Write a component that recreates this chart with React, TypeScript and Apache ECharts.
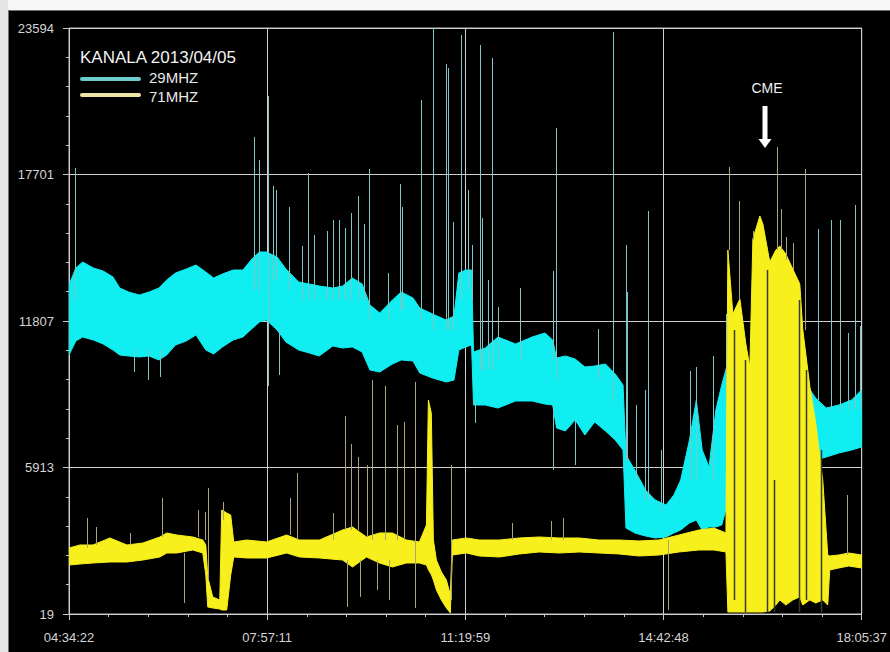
import React, { useEffect, useRef } from 'react';
import * as echarts from 'echarts';

// Axis tick labels
const xTickLabels = ['04:34:22', '07:57:11', '11:19:59', '14:42:48', '18:05:37'];
const yTickLabels = ['19', '5913', '11807', '17701', '23594'];
const Y_MIN = 19;
const Y_MAX = 23594;
const T_MAX = 811.25; // minutes from 04:34:22 to 18:05:37

// 29 MHz channel: envelope of the noisy band (minutes since 04:34:22)
const c29Time = [0, 7, 14, 25, 35, 45, 52, 61, 72, 82, 92, 100, 109, 120, 130, 140, 148, 157, 168, 178, 188, 195, 202, 213, 222, 235, 246, 256, 270, 280, 290, 300, 308, 318, 331, 340, 352, 359, 372, 386, 394, 399, 406, 412, 414, 426, 439, 457, 474, 487, 495, 499, 508, 518, 528, 538, 549, 559, 567, 570, 579, 590, 600, 611, 619, 626, 635, 642, 648, 655, 662, 668, 675, 691, 706, 721, 737, 747, 754, 764, 775, 788, 801, 811];
const c29High = [13255, 13938, 14180, 13938, 13818, 13576, 13134, 12973, 12852, 12973, 13134, 13456, 13737, 13898, 14059, 13777, 13536, 13697, 13858, 13858, 14341, 14582, 14582, 14381, 13898, 13375, 13295, 13215, 13134, 13215, 13536, 13295, 12450, 12128, 12651, 12973, 12732, 12329, 12088, 11846, 12007, 13737, 13858, 13858, 10559, 10720, 11163, 10881, 11163, 11324, 11042, 10318, 10398, 10278, 9956, 9996, 10077, 9674, 9231, 6416, 5813, 5007, 4605, 4404, 4806, 5410, 7019, 8628, 6617, 5933, 8226, 9231, 10237, 10237, 9835, 9835, 10237, 9835, 9312, 8709, 8306, 8427, 8628, 9031];
const c29Low = [10438, 11002, 11163, 11042, 10881, 10640, 10438, 10398, 10358, 10398, 10237, 10438, 10841, 11002, 11243, 10640, 10479, 10760, 11042, 11163, 11525, 11766, 11846, 11444, 10961, 10640, 10519, 10398, 10801, 10720, 10760, 10559, 9835, 9754, 10077, 10237, 10197, 9714, 9513, 9352, 9433, 10640, 10760, 10841, 8427, 8427, 8306, 8588, 8588, 8467, 8427, 7502, 7381, 7824, 7220, 7744, 7381, 7019, 6617, 3478, 3278, 3157, 3077, 3117, 3278, 3398, 3680, 3801, 3398, 3519, 3519, 3599, 4605, 5813, 5813, 5813, 5813, 6013, 6214, 6214, 6335, 6497, 6617, 6738];

// 29 MHz isolated spikes: minute, from, to
const c29SpikeTime = [6.1, 189.0, 194.1, 203.3, 208.4, 211.5, 224.8, 238.1, 244.2, 250.3, 263.6, 269.7, 275.9, 282.0, 289.1, 295.3, 301.4, 307.5, 326.9, 339.2, 341.2, 360.7, 372.9, 386.2, 388.2, 393.4, 401.5, 408.7, 412.8, 420.9, 423.0, 429.1, 433.2, 439.3, 461.8, 495.5, 498.6, 541.5, 556.8, 570.1, 571.1, 580.3, 589.5, 592.6, 605.9, 635.5, 641.6, 659.0, 672.3, 766.3, 779.6, 788.8, 797.0, 804.1, 809.2, 66.4, 80.7, 93.0, 214.6, 415.8, 495.5, 518.0];
const c29SpikeFrom = [12651, 13053, 13053, 9191, 13456, 13456, 13053, 12651, 12651, 12651, 12651, 12651, 12651, 12651, 12651, 12651, 12651, 11846, 11846, 12249, 12249, 11846, 11444, 11444, 11444, 11444, 12651, 13053, 12651, 9835, 9835, 9835, 9835, 10237, 10237, 10237, 9433, 9433, 8628, 6214, 6214, 5410, 4605, 4605, 4203, 5410, 5410, 5410, 5410, 8628, 8226, 8226, 8226, 8226, 8226, 10640, 10640, 10640, 11444, 8628, 8427, 7824];
const c29SpikeTo = [17961, 19209, 18283, 20858, 17237, 17076, 16393, 14823, 17760, 15266, 15427, 15870, 15870, 15548, 16151, 16835, 15709, 17921, 13737, 17318, 16393, 20697, 23594, 22145, 21984, 15789, 23312, 17076, 14864, 22910, 15950, 13456, 22387, 12369, 13134, 13818, 19571, 11484, 23433, 14864, 12973, 8427, 9031, 16232, 6617, 9795, 9956, 10398, 12088, 15507, 15870, 15870, 11324, 16473, 11605, 9754, 9433, 9553, 9634, 7703, 5813, 6013];

// 71 MHz channel envelope
const y71Time = [0, 11.2, 24.5, 41.9, 59.3, 75.6, 93.0, 100.1, 110.3, 126.7, 136.9, 140.0, 142.0, 147.1, 154.3, 156.3, 161.4, 165.5, 168.6, 181.9, 202.3, 222.7, 236.0, 256.4, 279.9, 290.2, 304.5, 317.7, 331.0, 345.3, 358.6, 365.8, 367.8, 370.8, 372.9, 376.0, 381.1, 386.2, 390.3, 392.3, 406.6, 419.9, 440.4, 460.8, 481.2, 501.7, 522.1, 542.5, 563.0, 583.4, 603.8, 624.3, 644.7, 660.0, 672.3, 674.3, 679.4, 686.6, 692.7, 696.8, 699.9, 707.0, 710.1, 717.2, 723.4, 727.5, 733.6, 740.7, 747.9, 750.9, 758.1, 764.2, 771.4, 776.5, 778.5, 787.8, 797.9, 811.2];
const y71High = [2674, 2795, 2795, 3077, 2795, 2875, 3117, 3278, 3197, 3117, 2996, 2795, 1508, 704, 582, 4203, 4082, 4002, 2916, 2996, 2916, 3197, 2996, 2996, 3398, 3519, 3117, 3278, 3278, 2996, 2916, 3600, 8628, 8100, 3000, 2191, 1709, 1387, 784, 2996, 3077, 2996, 2996, 3077, 3117, 3077, 3077, 2996, 2996, 2956, 2996, 3197, 3398, 3478, 3278, 14663, 12088, 12691, 10881, 9956, 15105, 16031, 15709, 14180, 14663, 14823, 14502, 13898, 13295, 11484, 9191, 7703, 5410, 2393, 2353, 2393, 2473, 2393];
const y71Low = [1990, 2031, 2071, 2111, 2111, 2191, 2313, 2473, 2473, 2594, 2473, 1588, 301, 261, 220, 180, 180, 1588, 2313, 2272, 2272, 2473, 2313, 2272, 2191, 1910, 2313, 2071, 1910, 2071, 2071, 1990, 1800, 1600, 1387, 985, 582, 261, 60, 2393, 2473, 2353, 2313, 2433, 2514, 2473, 2514, 2473, 2433, 2353, 2393, 2514, 2594, 2594, 2514, 100, 100, 100, 100, 100, 100, 100, 100, 140, 381, 582, 381, 582, 704, 381, 582, 462, 582, 381, 1789, 1870, 1950, 1870];

// 71 MHz isolated spikes: minute, from, to
const y71SpikeTime = [18.4, 27.6, 62.3, 95.0, 131.8, 139.0, 142.0, 157.3, 225.8, 232.9, 269.7, 282.0, 289.1, 295.3, 304.5, 309.6, 323.9, 336.1, 343.3, 354.5, 391.3, 453.6, 493.5, 505.7, 795.9, 675.4, 685.6, 699.9, 724.4, 728.5, 733.6, 740.7, 753.0, 117.5, 284.0, 297.3, 314.7, 328.0, 613.0];
const y71SpikeFrom = [2674, 2795, 2795, 3117, 3117, 2996, 1387, 3801, 3197, 2996, 2996, 3398, 3398, 3398, 3117, 2996, 2996, 2996, 2996, 261, 582, 2996, 2996, 2996, 2393, 14663, 12651, 15065, 14663, 14663, 14261, 13858, 11444, 2473, 2191, 2191, 2191, 2191, 2996];
const y71SpikeTo = [3881, 3519, 3278, 4685, 4203, 4122, 5088, 4524, 4685, 5691, 4082, 7985, 6858, 6335, 6013, 9433, 9191, 7622, 7744, 9352, 6013, 3680, 3761, 3881, 4806, 18002, 16634, 15427, 18806, 16312, 15185, 14944, 17921, 462, 301, 704, 985, 582, 180];

// 71 MHz signal dropouts inside the CME burst: minute, top, bottom
const y71GapTime = [680.5, 691.7, 714.2, 721.3, 746.9, 754.0, 769.3];
const y71GapTop = [11444, 10237, 13858, 5410, 12651, 9835, 6617];
const y71GapBottom = [582, 100, 100, 100, 100, 582, 100];

const X_INTERVAL = T_MAX / 4;
const Y_INTERVAL = (Y_MAX - Y_MIN) / 4;

function bandSeries(name: string, time: number[], low: number[], high: number[], color: string) {
  return {
    type: 'custom',
    name,
    coordinateSystem: 'cartesian2d',
    clip: true,
    silent: true,
    data: [[time[0], low[0] - Y_MIN]],
    renderItem: (_p: any, api: any) => {
      const pts: number[][] = [];
      for (let i = 0; i < time.length; i++) pts.push(api.coord([time[i], high[i] - Y_MIN]));
      for (let i = time.length - 1; i >= 0; i--) pts.push(api.coord([time[i], low[i] - Y_MIN]));
      return {
        type: 'polygon',
        shape: { points: pts },
        style: { fill: color, stroke: color, lineWidth: 1 },
      };
    },
  };
}

function spikeSeries(name: string, time: number[], from: number[], to: number[], color: string, width: number) {
  return {
    type: 'custom',
    name,
    coordinateSystem: 'cartesian2d',
    clip: true,
    silent: true,
    data: time.map((t, i) => [t, from[i] - Y_MIN, to[i] - Y_MIN]),
    encode: { x: 0, y: [1, 2] },
    renderItem: (_p: any, api: any) => {
      const a = api.coord([api.value(0), api.value(1)]);
      const b = api.coord([api.value(0), api.value(2)]);
      const x = Math.round(a[0]) + 0.5;
      return {
        type: 'line',
        shape: { x1: x, y1: a[1], x2: x, y2: b[1] },
        style: { stroke: color, lineWidth: width },
      };
    },
  };
}

const AXIS_FONT = 'Liberation Sans, Arial, sans-serif';
const TITLE_FONT = '17px Liberation Sans, Arial, sans-serif';
const LEGEND_FONT = '15px Liberation Sans, Arial, sans-serif';

export default function App() {
  const ref = useRef<HTMLDivElement>(null);
  useEffect(() => {
    if (!ref.current) return;
    const chart = echarts.init(ref.current, undefined, { renderer: 'svg' });
    chart.setOption({
      animation: false,
      backgroundColor: '#000000',
      grid: { left: 69, top: 28, right: 27, bottom: 38, show: true, borderColor: '#b8b8b8', borderWidth: 1, backgroundColor: '#000' },
      xAxis: {
        type: 'value',
        min: 0,
        max: T_MAX,
        interval: X_INTERVAL,
        offset: 5,
        axisLine: { show: false },
        axisTick: { show: true, length: 6, lineStyle: { color: '#c8c8c8' } },
        minorTick: { show: true, splitNumber: 5, length: 3, lineStyle: { color: '#c8c8c8' } },
        splitLine: { show: true, lineStyle: { color: '#d0d0d0', width: 1 } },
        axisLabel: {
          color: '#d4d4d4', fontFamily: AXIS_FONT, fontSize: 13, margin: 12,
          showMinLabel: true, showMaxLabel: true,
          formatter: (v: number) => xTickLabels[Math.round(v / X_INTERVAL)] ?? '',
        },
      },
      yAxis: {
        type: 'value',
        min: 0,
        max: Y_MAX - Y_MIN,
        interval: Y_INTERVAL,
        offset: 5,
        axisLine: { show: false },
        axisTick: { show: true, length: 6, lineStyle: { color: '#c8c8c8' } },
        minorTick: { show: true, splitNumber: 5, length: 3, lineStyle: { color: '#c8c8c8' } },
        splitLine: { show: true, lineStyle: { color: '#d0d0d0', width: 1 } },
        axisLabel: {
          color: '#d4d4d4', fontFamily: AXIS_FONT, fontSize: 13, margin: 10,
          showMinLabel: true, showMaxLabel: true,
          formatter: (v: number) => yTickLabels[Math.round(v / Y_INTERVAL)] ?? '',
        },
      },
      series: [
        bandSeries('29MHZ', c29Time, c29Low, c29High, '#10eef2'),
        spikeSeries('29MHZ spikes', c29SpikeTime, c29SpikeFrom, c29SpikeTo, '#80c4c6', 1),
        bandSeries('71MHZ', y71Time, y71Low, y71High, '#f8f01c'),
        spikeSeries('71MHZ spikes', y71SpikeTime, y71SpikeFrom, y71SpikeTo, '#aaa478', 1),
        spikeSeries('71MHZ dropouts', y71GapTime, y71GapTop, y71GapBottom, '#3a3a2a', 1.5),
      ],
      graphic: [
        { type: 'rect', left: 0, top: 0, shape: { width: 890, height: 10 }, style: { fill: '#f6f6f6' }, silent: true },
        { type: 'rect', left: 0, top: 0, shape: { width: 8, height: 652 }, style: { fill: '#e4e4e4' }, silent: true },
        { type: 'line', shape: { x1: 8.5, y1: 10, x2: 8.5, y2: 652 }, style: { stroke: '#707070', lineWidth: 1 }, silent: true },
        { type: 'line', shape: { x1: 8, y1: 10.5, x2: 890, y2: 10.5 }, style: { stroke: '#707070', lineWidth: 1 }, silent: true },
        { type: 'text', x: 80, y: 57, style: { text: 'KANALA 2013/04/05', fill: '#f2f2f2', font: TITLE_FONT, verticalAlign: 'middle', align: 'left' }, silent: true },
        { type: 'line', shape: { x1: 82, y1: 79, x2: 139, y2: 79 }, style: { stroke: '#6ccbcb', lineWidth: 4, lineCap: 'round' }, silent: true },
        { type: 'text', x: 149, y: 77.5, style: { text: '29MHZ', fill: '#e8e8e8', font: LEGEND_FONT, verticalAlign: 'middle', align: 'left' }, silent: true },
        { type: 'line', shape: { x1: 82, y1: 95, x2: 139, y2: 95 }, style: { stroke: '#ece4a6', lineWidth: 4, lineCap: 'round' }, silent: true },
        { type: 'text', x: 149, y: 96, style: { text: '71MHZ', fill: '#e8e8e8', font: LEGEND_FONT, verticalAlign: 'middle', align: 'left' }, silent: true },
        { type: 'text', x: 767, y: 88, style: { text: 'CME', fill: '#f2f2f2', font: '14px Liberation Sans, Arial, sans-serif', verticalAlign: 'middle', align: 'center' }, silent: true },
        {
          type: 'polygon', silent: true,
          shape: { points: [[762.5, 106], [767.5, 106], [767.5, 139], [771.5, 139], [765, 148], [758.5, 139], [762.5, 139]] },
          style: { fill: '#ffffff' },
        },
      ],
    });
    return () => chart.dispose();
  }, []);
  return (
    <div style={{ position: 'fixed', left: 0, top: 0, width: 890, height: 652, background: '#000' }}>
      <div ref={ref} style={{ width: 890, height: 652 }} />
    </div>
  );
}
